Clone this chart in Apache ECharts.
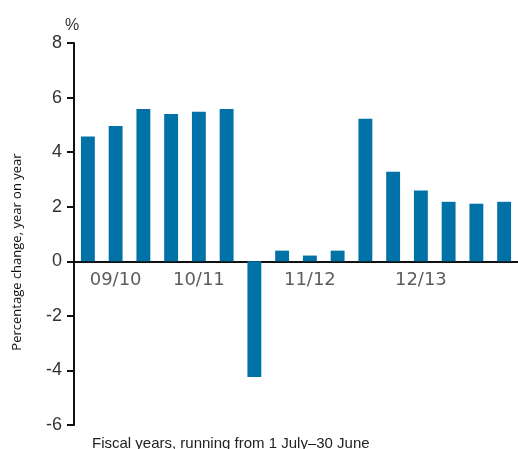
<!DOCTYPE html>
<html>
<head>
<meta charset="utf-8">
<script src="https://cdn.jsdelivr.net/npm/echarts@6/dist/echarts.min.js"></script>
<style>html,body{margin:0;padding:0;background:#fff}#c{width:518px;height:449px}</style>
</head>
<body>
<div id="c"></div>
<script>
const categories = ['', '09/10', '', '', '10/11', '', '', '', '11/12', '', '', '', '12/13', '', '', ''];
const values = [4.57, 4.96, 5.58, 5.40, 5.48, 5.58, -4.24, 0.39, 0.21, 0.39, 5.22, 3.28, 2.59, 2.18, 2.11, 2.18];
const yMin = -6, yMax = 8, yStep = 2;
const unitLabel = '%';
const yTitle = 'Percentage change, year on year';
const xNote = 'Fiscal years, running from 1 July\u201330 June';

const chart = echarts.init(document.getElementById('c'), null, {renderer: 'canvas'});
chart.setOption({
  animation: false,
  grid: {left: 74, top: 43, bottom: 24, right: -4, containLabel: false},
  xAxis: {
    type: 'category',
    data: categories,
    axisLine: {onZero: true, lineStyle: {color: '#111', width: 2}},
    axisTick: {show: false},
    axisLabel: {show: false}
  },
  yAxis: {
    type: 'value',
    min: yMin, max: yMax, interval: yStep,
    axisLine: {show: true, lineStyle: {color: '#111', width: 2}},
    axisTick: {show: true, length: 7, lineStyle: {color: '#111', width: 2}},
    axisLabel: {margin: 12, fontSize: 18, color: '#333', fontFamily: 'Liberation Sans'},
    splitLine: {show: false}
  },
  series: [{
    type: 'bar',
    data: values,
    barWidth: '50%',
    itemStyle: {color: '#0072a7'},
    z: 1
  }, {
    type: 'scatter',
    data: categories.map(() => 0),
    symbolSize: 0,
    silent: true,
    label: {
      show: true,
      position: 'bottom',
      distance: 10,
      formatter: p => categories[p.dataIndex],
      fontSize: 18,
      color: '#333',
      fontFamily: 'DejaVu Sans'
    }
  }],
  graphic: [
    {type: 'text', left: 65, top: 18, style: {text: unitLabel, fontSize: 16, fill: '#333', fontFamily: 'Liberation Sans'}},
    {type: 'text', x: 17, y: 252, rotation: Math.PI / 2,
     style: {text: yTitle, fontSize: 13, fill: '#111', fontFamily: 'Open Sans', align: 'center', verticalAlign: 'middle'}},
    {type: 'text', left: 92, top: 436, style: {text: xNote, fontSize: 15, fill: '#222', fontFamily: 'Liberation Sans'}}
  ]
});
</script>
</body>
</html>
